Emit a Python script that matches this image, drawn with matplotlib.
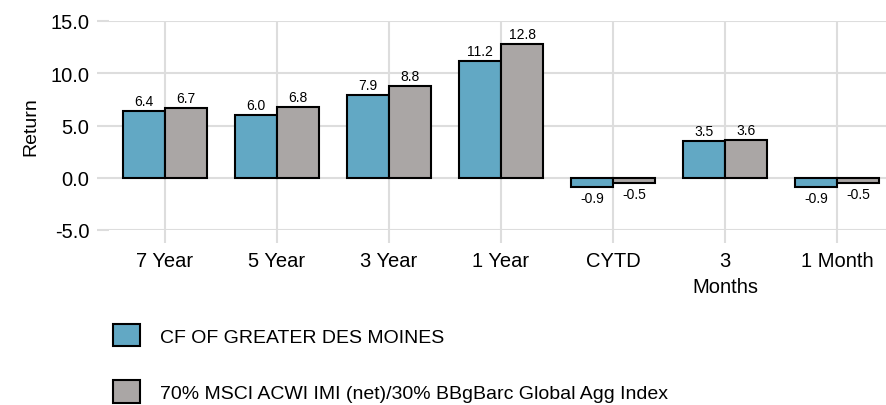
import numpy as np
import matplotlib.pyplot as plt
from matplotlib.patches import Patch

plt.rcParams['font.family'] = ['Liberation Sans', 'DejaVu Sans']

categories = ['7 Year', '5 Year', '3 Year', '1 Year', 'CYTD', '3\nMonths', '1 Month']
fund = [6.4, 6.0, 7.9, 11.2, -0.9, 3.5, -0.9]
bench = [6.7, 6.8, 8.8, 12.8, -0.5, 3.6, -0.5]
series_names = ['CF OF GREATER DES MOINES',
                '70% MSCI ACWI IMI (net)/30% BBgBarc Global Agg Index']
yticks = [-5.0, 0.0, 5.0, 10.0, 15.0]

blue = '#62a8c4'
grey = '#aaa6a5'
grid = '#dddddd'

fig = plt.figure(figsize=(8.86, 4.06), dpi=100)
ax = fig.add_axes([109 / 886, 1 - 231 / 406, 784 / 886, 209 / 406])

x = np.arange(len(categories))
w = 0.375
b1 = ax.bar(x - w / 2, fund, w, color=blue, edgecolor='black', linewidth=1.5, zorder=3)
b2 = ax.bar(x + w / 2, bench, w, color=grey, edgecolor='black', linewidth=1.5, zorder=3)

for bars, vals in [(b1, fund), (b2, bench)]:
    for r, v in zip(bars, vals):
        off = 2 if v >= 0 else -3
        ax.annotate('%.1f' % v, (r.get_x() + r.get_width() / 2, v),
                    xytext=(0, off), textcoords='offset points',
                    ha='center', va='bottom' if v >= 0 else 'top', fontsize=10)

ax.set_xlim(-0.5, 6.5)
ax.set_ylim(-5, 15)
ax.set_yticks(yticks)
ax.set_yticklabels(['%.1f' % t for t in yticks])
ax.set_xticks(x)
ax.set_xticklabels(categories, linespacing=1.45)
ax.tick_params(axis='both', labelsize=14.5, color=grid, width=1.5, length=9)
ax.tick_params(axis='x', pad=6)
ax.tick_params(axis='y', pad=5)
ax.grid(color=grid, linewidth=1.5, zorder=0)
ax.set_axisbelow(True)
for s in ax.spines.values():
    s.set_visible(False)
ax.set_ylabel('Return', fontsize=14, labelpad=8)

handles = [Patch(facecolor=blue, edgecolor='black', linewidth=1.5),
           Patch(facecolor=grey, edgecolor='black', linewidth=1.5)]
fig.legend(handles, series_names, loc='upper left',
           bbox_to_anchor=(113 / 886, 1 - 325 / 406), frameon=False,
           fontsize=14, borderpad=0, borderaxespad=0, handlelength=1.4,
           handleheight=1.4, handletextpad=1.0, labelspacing=1.75)

fig.savefig('out.png', dpi=100)
